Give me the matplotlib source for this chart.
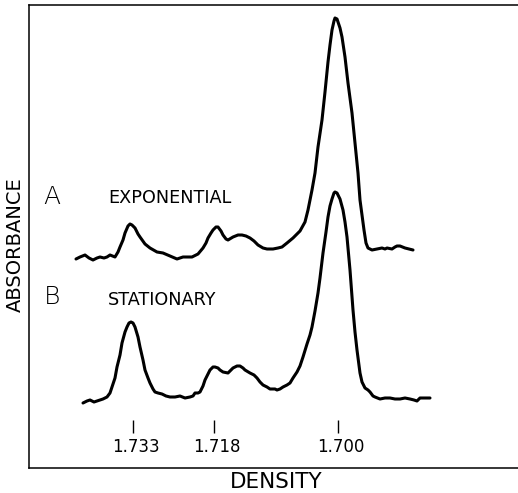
import matplotlib
matplotlib.use("Agg")
import matplotlib.pyplot as plt


# DATA (x = position along the gradient, y = absorbance, arbitrary units)
pos_a = [76, 80, 85, 89, 93, 97, 100, 104, 107, 110, 115, 118, 120, 123, 125, 128, 130, 132, 135, 138,
         140, 145, 150, 157, 163, 170, 177, 183, 192, 198, 203, 206, 208, 211, 213, 216, 218, 221, 223, 226,
         228, 233, 238, 242, 246, 250, 254, 258, 263, 267, 273, 278, 282, 287, 293, 300, 305, 308, 310, 312,
         315, 318, 322, 325, 328, 330, 332, 334, 335, 337, 338, 340, 342, 345, 348, 352, 355, 358, 360, 362,
         364, 366, 368, 372, 377, 382, 385, 387, 392, 395, 397, 400, 405, 409, 413]
abs_a = [209, 211, 213, 210, 208, 210, 211, 210, 211, 213, 211, 216, 221, 228, 235, 242, 244, 243, 240, 234,
         231, 224, 220, 216, 215, 212, 209, 211, 211, 214, 220, 225, 230, 235, 238, 241, 241, 237, 233, 229,
         228, 231, 233, 233, 232, 230, 227, 223, 220, 219, 219, 220, 221, 225, 230, 237, 246, 258, 268, 278,
         295, 321, 348, 376, 406, 423, 438, 447, 450, 449, 446, 440, 431, 411, 385, 355, 325, 295, 268, 253,
         238, 225, 220, 218, 219, 220, 219, 220, 219, 221, 222, 222, 220, 219, 218]

pos_b = [83, 87, 90, 94, 97, 100, 103, 107, 110, 112, 115, 117, 120, 122, 125, 127, 129, 131, 133, 135,
         138, 140, 143, 145, 148, 150, 153, 155, 158, 162, 166, 170, 175, 180, 185, 190, 193, 195, 198, 200,
         203, 205, 208, 210, 213, 215, 218, 220, 223, 228, 231, 233, 237, 240, 243, 245, 250, 254, 257, 260,
         263, 267, 270, 275, 277, 280, 283, 287, 290, 293, 297, 300, 303, 307, 310, 312, 315, 318, 320, 323,
         326, 328, 330, 332, 334, 335, 337, 338, 340, 343, 345, 347, 350, 353, 355, 357, 360, 362, 365, 368,
         370, 373, 375, 380, 385, 390, 395, 400, 405, 410, 414, 417, 420, 425, 430]
abs_b = [65, 67, 68, 66, 67, 68, 69, 71, 75, 81, 90, 101, 113, 125, 136, 141, 145, 146, 145, 141,
         131, 121, 108, 98, 90, 85, 79, 76, 75, 74, 72, 71, 71, 72, 70, 71, 72, 75, 75, 76,
         82, 88, 94, 98, 101, 101, 100, 98, 96, 95, 98, 100, 102, 102, 100, 98, 95, 93, 90, 86,
         83, 81, 79, 79, 78, 79, 81, 83, 85, 90, 96, 102, 111, 124, 133, 141, 157, 175, 190, 215,
         236, 251, 262, 269, 275, 276, 275, 273, 269, 258, 246, 231, 198, 158, 136, 118, 95, 86, 80, 78,
         76, 72, 71, 69, 70, 70, 69, 69, 70, 69, 68, 67, 70, 70, 70]

# density markers
marker_pos = [133, 214, 338]
marker_labels = ['1.733', '1.718', '1.700']

trace_names = ['A', 'B']
trace_titles = ['EXPONENTIAL', 'STATIONARY']


def plot_traces():
    """Draws both absorbance scans in one open box, like the old figure"""
    fig = plt.figure(figsize=(5.18, 4.93), dpi=100)
    ax = fig.add_axes([29 / 518, 25 / 493, 1 - 29 / 518, 463 / 493])
    ax.set_xlim(29, 518)
    ax.set_ylim(0, 463)

    for x, y in [(pos_a, abs_a), (pos_b, abs_b)]:
        ax.plot(x, y, color='black', lw=2.2, solid_capstyle='round', solid_joinstyle='round')

    # trace labels
    ax.text(52, 271, trace_names[0], fontsize=18, ha='center', va='center', fontweight='light')
    ax.text(108, 270, trace_titles[0], fontsize=12.7, ha='left', va='center')
    ax.text(52, 171, trace_names[1], fontsize=18, ha='center', va='center', fontweight='light')
    ax.text(108, 168, trace_titles[1], fontsize=12.7, ha='left', va='center')

    # little density markers floating above the axis line
    ax.vlines(marker_pos, 35, 48, color='black', lw=1.0)
    for x, lab in zip(marker_pos, marker_labels):
        ax.text(x + 3, 21, lab, fontsize=12, ha='center', va='center')

    ax.set_xticks([])
    ax.set_yticks([])
    ax.spines['right'].set_visible(False)
    for s in ['left', 'top', 'bottom']:
        ax.spines[s].set_linewidth(1.1)

    fig.text(15 / 518, 1 - 245 / 493, 'ABSORBANCE', rotation=90, fontsize=14, ha='center', va='center')
    fig.text(276 / 518, 1 - 482 / 493, 'DENSITY', fontsize=15.5, ha='center', va='center')

    fig.savefig('out.png', dpi=100)
    return None


plot_traces()
